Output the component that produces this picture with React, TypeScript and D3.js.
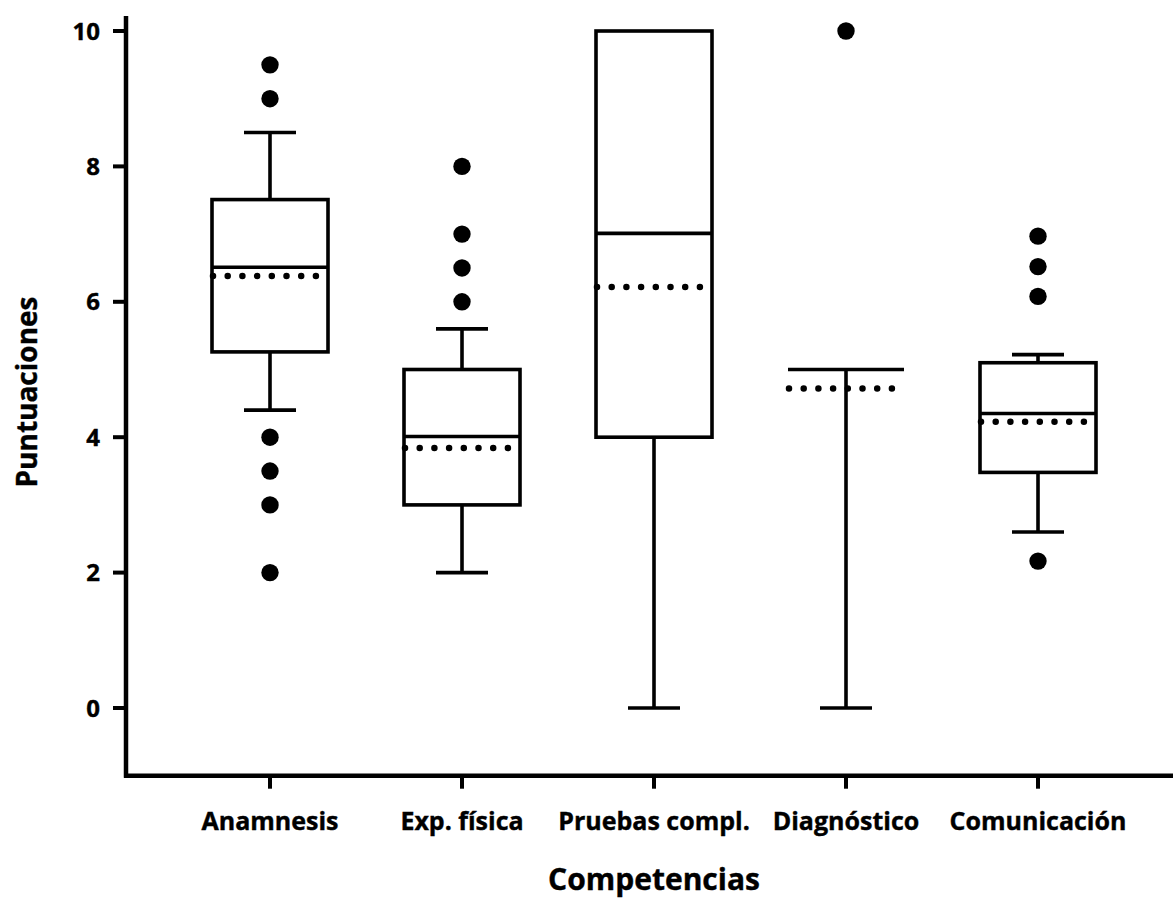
import React from "react";
import * as d3 from "d3";

const categories = ["Anamnesis", "Exp. física", "Pruebas compl.", "Diagnóstico", "Comunicación"];
const q1 = [5.26, 3.0, 4.0, 5.0, 3.48];
const medians = [6.51, 4.01, 7.01, 5.0, 4.35];
const q3 = [7.51, 5.0, 10.0, 5.0, 5.1];
const whiskerLow = [4.4, 2.0, 0.0, 0.0, 2.6];
const whiskerHigh = [8.5, 5.6, 10.0, 5.0, 5.22];
const means = [6.38, 3.84, 6.22, 4.72, 4.23];
const outliers = [
  [9.5, 9.0, 4.0, 3.5, 3.0, 2.0],
  [8.0, 7.0, 6.5, 6.0],
  [],
  [10.0],
  [6.97, 6.52, 6.08, 2.17],
];
const yTicks = [0, 2, 4, 6, 8, 10];
const yTitle = "Puntuaciones";
const xTitle = "Competencias";

const W = 1173;
const H = 900;
const FONT = "'Open Sans', sans-serif";

export default function App() {
  const y = d3.scaleLinear().domain([0, 10]).range([708, 31]);
  const x = d3.scalePoint<string>().domain(categories).range([270, 1038]);
  const axisLeft = 126;
  const axisBottom = y(-1);
  const axisTop = y(10.22);
  const boxHalf = 58;
  const capHalf = 26;
  const stroke = 3.6;

  return (
    <svg width={W} height={H} style={{ position: "absolute", left: 0, top: 0, background: "#fff" }}>
      <rect x={0} y={0} width={W} height={H} fill="#fff" />
      {categories.map((c, i) => {
        const cx = x(c) as number;
        const els: React.ReactNode[] = [];
        if (whiskerHigh[i] > q3[i]) {
          els.push(<line key="wh" x1={cx} x2={cx} y1={y(q3[i])} y2={y(whiskerHigh[i])} stroke="#000" strokeWidth={stroke} />);
          els.push(<line key="ch" x1={cx - capHalf} x2={cx + capHalf} y1={y(whiskerHigh[i])} y2={y(whiskerHigh[i])} stroke="#000" strokeWidth={stroke} />);
        }
        if (whiskerLow[i] < q1[i]) {
          els.push(<line key="wl" x1={cx} x2={cx} y1={y(q1[i])} y2={y(whiskerLow[i])} stroke="#000" strokeWidth={stroke} />);
          els.push(<line key="cl" x1={cx - capHalf} x2={cx + capHalf} y1={y(whiskerLow[i])} y2={y(whiskerLow[i])} stroke="#000" strokeWidth={stroke} />);
        }
        if (q3[i] > q1[i]) {
          els.push(<rect key="box" x={cx - boxHalf} y={y(q3[i])} width={boxHalf * 2} height={y(q1[i]) - y(q3[i])} fill="none" stroke="#000" strokeWidth={stroke} />);
        }
        els.push(<line key="med" x1={cx - boxHalf} x2={cx + boxHalf} y1={y(medians[i])} y2={y(medians[i])} stroke="#000" strokeWidth={stroke} />);
        els.push(
          <line key="mean" x1={cx - boxHalf + 1} x2={cx + boxHalf - 8} y1={y(means[i])} y2={y(means[i])} stroke="#000" strokeWidth={6.5} strokeLinecap="round" strokeDasharray="0 14.7" />
        );
        outliers[i].forEach((v, j) => {
          els.push(<circle key={"o" + j} cx={cx} cy={y(v)} r={8.7} fill="#000" />);
        });
        return <g key={c}>{els}</g>;
      })}
      <line x1={axisLeft} x2={axisLeft} y1={axisTop} y2={axisBottom + 2} stroke="#000" strokeWidth={4.5} />
      <line x1={axisLeft - 2} x2={W} y1={axisBottom} y2={axisBottom} stroke="#000" strokeWidth={4.5} />
      {yTicks.map((t) => (
        <g key={t}>
          <line x1={axisLeft - 13} x2={axisLeft} y1={y(t)} y2={y(t)} stroke="#000" strokeWidth={4} />
          <text x={100} y={y(t)} dy="0.36em" textAnchor="end" fontFamily={FONT} fontWeight={700} fontSize={24} fill="#000" stroke="#000" strokeWidth={0.4}>
            {t}
          </text>
        </g>
      ))}
      {categories.map((c) => (
        <g key={c}>
          <line x1={x(c)} x2={x(c)} y1={axisBottom} y2={axisBottom + 13} stroke="#000" strokeWidth={4} />
          <text x={x(c)} y={830} textAnchor="middle" fontFamily={FONT} fontWeight={700} fontSize={25} fill="#000" stroke="#000" strokeWidth={0.4}>
            {c}
          </text>
        </g>
      ))}
      <text x={654} y={890} textAnchor="middle" fontFamily={FONT} fontWeight={700} fontSize={30} fill="#000" stroke="#000" strokeWidth={0.4}>
        {xTitle}
      </text>
      <text transform={`translate(37, 392) rotate(-90)`} textAnchor="middle" fontFamily={FONT} fontWeight={700} fontSize={28} fill="#000" stroke="#000" strokeWidth={0.4}>
        {yTitle}
      </text>
    </svg>
  );
}
